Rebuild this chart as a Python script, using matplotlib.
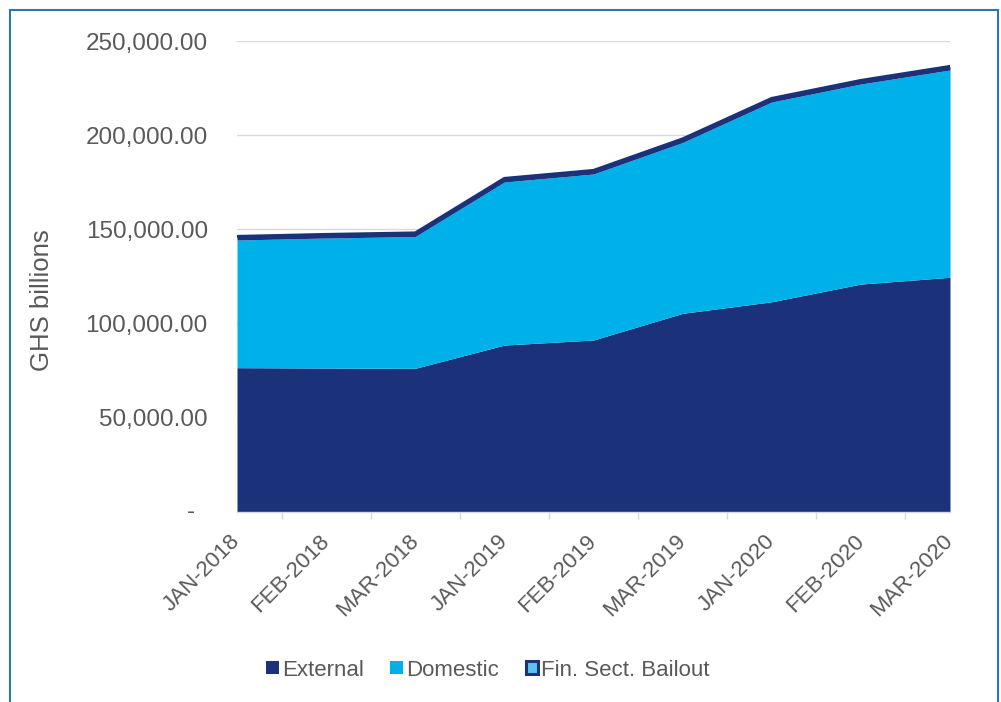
import numpy as np
import matplotlib
matplotlib.use("Agg")
import matplotlib.pyplot as plt
from matplotlib.patches import Patch, Rectangle
from matplotlib.ticker import FixedLocator, FuncFormatter

plt.rcParams['font.family'] = ['Liberation Sans', 'DejaVu Sans']

# Public debt stock by component
periods = ["JAN-2018", "FEB-2018", "MAR-2018", "JAN-2019", "FEB-2019",
           "MAR-2019", "JAN-2020", "FEB-2020", "MAR-2020"]
external = [76500, 76300, 76150, 88500, 91200, 105350, 111500, 120900, 124500]
domestic = [67800, 69050, 70000, 86600, 88150, 90750, 106100, 106250, 110100]
bailout = [1900, 1900, 1900, 1900, 1900, 1900, 1900, 1900, 1900]
y_ticks = [0, 50000, 100000, 150000, 200000, 250000]

NAVY = "#1B327A"
SKY = "#00B0E8"
TEXT = "#595959"
GRID = "#D9D9D9"
FRAME = "#2E75B6"

ext = np.array(external, dtype=float)
dom = np.array(domestic, dtype=float)
bal = np.array(bailout, dtype=float)
x = np.arange(len(periods))

fig = plt.figure(figsize=(10.01, 7.02), dpi=100)
W, H = 1001, 702
ax = fig.add_axes([237 / W, 1 - 511.7 / H, (950 - 237) / W, (511.7 - 41) / H])

ax.fill_between(x, 0, ext, color=NAVY, lw=0, zorder=2)
ax.fill_between(x, ext, ext + dom, color=SKY, lw=0, zorder=2)
ax.fill_between(x, ext + dom, ext + dom + bal, color=NAVY, lw=0, zorder=2)
ax.plot(x, ext + dom + bal, color=NAVY, lw=2.2, solid_capstyle='round',
        solid_joinstyle='round', zorder=3)

ax.set_xlim(0, len(periods) - 1)
ax.set_ylim(0, 250000)

# y axis (zero shown as an accounting dash, set slightly left)
ax.yaxis.set_major_locator(FixedLocator(y_ticks))
ax.yaxis.set_major_formatter(FuncFormatter(lambda v, p: "" if v == 0 else f"{v:,.2f}"))
ax.tick_params(axis='y', length=0, pad=21, labelsize=17.5, labelcolor=TEXT)
ax.annotate("-", xy=(0, y_ticks[0]), xycoords=('axes fraction', 'data'),
            xytext=(-30.5, 0), textcoords='offset points', ha='right',
            va='center', fontsize=17.5, color=TEXT, annotation_clip=False)
ax.grid(axis='y', color=GRID, lw=1.0)
ax.set_axisbelow(True)

# x axis: labels on the points, tick marks between them
ax.xaxis.set_major_locator(FixedLocator(x))
ax.set_xticklabels(periods)
ax.xaxis.set_minor_locator(FixedLocator(list(x[:-1] + 0.5) + [x[-1]]))
ax.tick_params(axis='x', which='major', length=0, pad=19, labelsize=16,
               labelcolor=TEXT)
ax.tick_params(axis='x', which='minor', length=5, width=1, color=GRID)
for lab in ax.get_xticklabels():
    lab.set_rotation(45)
    lab.set_ha('right')
    lab.set_va('center')
    lab.set_rotation_mode('anchor')

for s in ['top', 'right', 'left']:
    ax.spines[s].set_visible(False)
ax.spines['bottom'].set_color(GRID)
ax.spines['bottom'].set_linewidth(1.0)
ax.spines['bottom'].set_zorder(4)

fig.text(42 / W, 1 - 300 / H, "GHS billions", rotation=90, ha='center',
         va='center', fontsize=18.5, color=TEXT)

handles = [
    Patch(facecolor=NAVY, edgecolor=NAVY, lw=0),
    Patch(facecolor=SKY, edgecolor=SKY, lw=0),
    Patch(facecolor="#5CC3EE", edgecolor=NAVY, lw=2.2),
]
fig.legend(handles, ["External", "Domestic", "Fin. Sect. Bailout"],
           loc='center', bbox_to_anchor=(488 / W, 1 - 670 / H), ncol=3,
           frameon=False, fontsize=16, labelcolor=TEXT, handlelength=0.55,
           handleheight=0.55, handletextpad=0.15, columnspacing=1.2)

fig.patches.append(Rectangle((10 / W, -0.05), (998 - 10) / W, 1 - 10 / H + 0.05,
                             transform=fig.transFigure, fill=False,
                             edgecolor=FRAME, lw=1.5))

fig.savefig("out.png", dpi=100)
